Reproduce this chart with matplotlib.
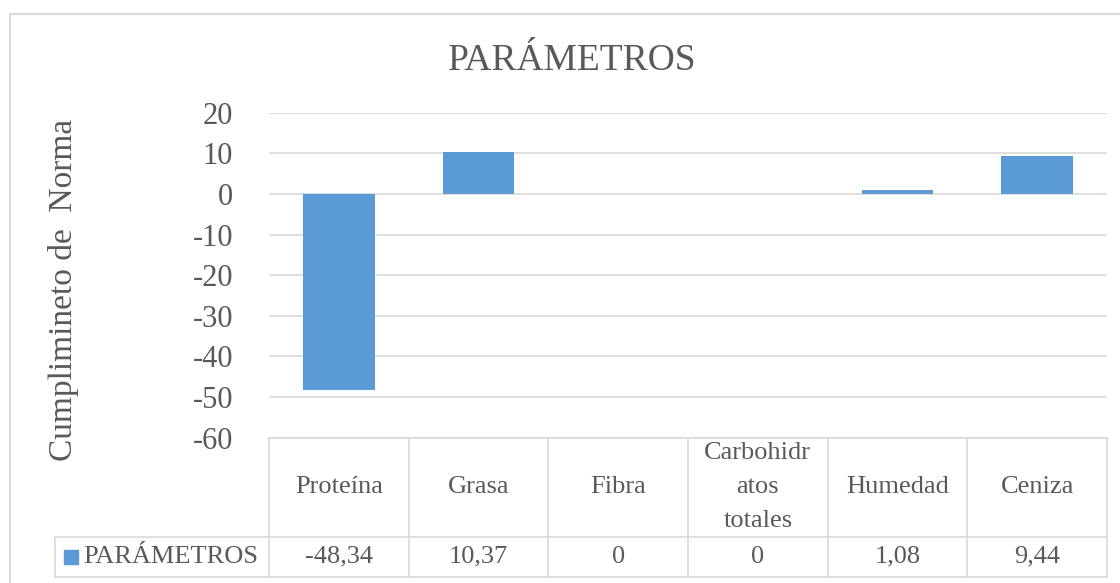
import matplotlib
matplotlib.use("Agg")
import matplotlib.pyplot as plt
from matplotlib.patches import Rectangle
from matplotlib.lines import Line2D
import matplotlib.transforms as mtrans

plt.rcParams['font.family'] = ['Liberation Serif', 'DejaVu Serif']

# ---- data ----
categories = ["Proteína", "Grasa", "Fibra", "Carbohidratos totales", "Humedad", "Ceniza"]
header_labels = ["Proteína", "Grasa", "Fibra", "Carbohidr\natos\ntotales", "Humedad", "Ceniza"]
values = [-48.34, 10.37, 0, 0, 1.08, 9.44]
series_name = "PARÁMETROS"
title = "PARÁMETROS"
ylabel = "Cumplimineto de  Norma"
yticks = [-60, -50, -40, -30, -20, -10, 0, 10, 20]

W, H = 1120, 583
fig = plt.figure(figsize=(W / 100, H / 100), dpi=100)
fig.patch.set_facecolor("white")

def fx(px):
    return px / W

def fy(py):
    return 1 - py / H

TXT = "#595959"
GRID = "#D9D9D9"
BAR = "#5B9BD5"

# outer chart border (clipped at right/bottom in reference)
fig.add_artist(Rectangle((fx(10), fy(600)), fx(1130) - fx(10), fy(14) - fy(600),
                         transform=fig.transFigure, fill=False, edgecolor=GRID, lw=1.5))

left, right, top, bottom = 269, 1107, 112.7, 437.6
ax = fig.add_axes([fx(left), fy(bottom), fx(right) - fx(left), fy(top) - fy(bottom)])
x = list(range(len(categories)))
ax.bar(x, values, width=0.513, color=BAR, zorder=3)
ax.set_xlim(-0.5, len(categories) - 0.5)
ax.set_ylim(-60, 20)
ax.set_yticks(yticks)
ax.set_yticklabels([str(t) for t in yticks], fontsize=22, color=TXT)
ax.tick_params(axis='y', length=0, pad=26)
ax.set_xticks([])
for s in ax.spines.values():
    s.set_visible(False)
ax.grid(axis='y', color=GRID, lw=1.2, zorder=0)
ax.set_axisbelow(True)

# title and y label
fig.text(fx(572), fy(70), title, ha='center', va='baseline', fontsize=27, color=TXT)
fig.text(fx(64), fy(290), ylabel, ha='center', va='center', rotation=90, fontsize=24, color=TXT)

# ---- data table ----
bt = mtrans.blended_transform_factory(ax.transData, fig.transFigure)
row_top, row_mid, row_bot = 437.6, 537, 576.5
legend_left = 55
lw = 1.2
# horizontal lines
fig.add_artist(Line2D([fx(left), fx(right)], [fy(row_top)] * 2, transform=fig.transFigure, color=GRID, lw=lw))
fig.add_artist(Line2D([fx(legend_left), fx(right)], [fy(row_mid)] * 2, transform=fig.transFigure, color=GRID, lw=lw))
fig.add_artist(Line2D([fx(legend_left), fx(right)], [fy(row_bot)] * 2, transform=fig.transFigure, color=GRID, lw=lw))
# vertical lines
for b in [i - 0.5 for i in range(len(categories) + 1)]:
    fig.add_artist(Line2D([b, b], [fy(row_top), fy(row_bot)], transform=bt, color=GRID, lw=lw))
fig.add_artist(Line2D([fx(legend_left)] * 2, [fy(row_mid), fy(row_bot)], transform=fig.transFigure, color=GRID, lw=lw))

hy = (row_top + row_mid) / 2
vy = (row_mid + row_bot) / 2
for i, (lab, v) in enumerate(zip(header_labels, values)):
    fig.text(i, fy(hy), lab, transform=bt, ha='center', va='center', fontsize=19,
             color=TXT, linespacing=1.7)
    s = f"{v:g}".replace('.', ',')
    fig.text(i, fy(vy), s, transform=bt, ha='center', va='center', fontsize=19, color=TXT)

# legend key
fig.add_artist(Rectangle((fx(64), fy(564)), fx(78) - fx(64), fy(550) - fy(564),
                         transform=fig.transFigure, color=BAR))
fig.text(fx(83), fy(vy), series_name, ha='left', va='center', fontsize=19, color=TXT)

fig.savefig("out.png", dpi=100)
